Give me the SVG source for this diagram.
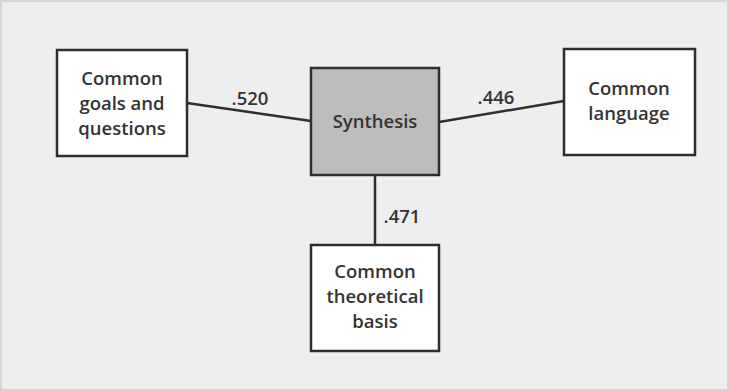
<svg xmlns="http://www.w3.org/2000/svg" width="729" height="391" viewBox="0 0 729 391">
<style>
.box{fill:#ffffff;stroke:#2e2e2e;stroke-width:2.5}
.hub{fill:#bdbdbd;stroke:#2e2e2e;stroke-width:2.5}
.t{font-family:"Open Sans","Liberation Sans",sans-serif;font-size:18.5px;font-weight:600;fill:#333333;text-anchor:middle}
.c{stroke:#2e2e2e;stroke-width:2.5;fill:none}
</style>
<rect x="0" y="0" width="729" height="391" fill="#eeeeee"/>
<rect x="1" y="1" width="727" height="389" fill="none" stroke="#d6d6d6" stroke-width="2"/>
<g id="connectors">
<line class="c" x1="187" y1="103" x2="311" y2="121"/>
<line class="c" x1="439" y1="122" x2="564" y2="101"/>
<line class="c" x1="375" y1="175" x2="375" y2="245"/>
<text class="t" x="250" y="105">.520</text>
<text class="t" x="496" y="104">.446</text>
<text class="t" x="402" y="223">.471</text>
</g>
<g id="goals">
<rect class="box" x="57" y="50" width="130" height="106"/>
<text class="t" x="122" y="85">Common</text>
<text class="t" x="122" y="110">goals and</text>
<text class="t" x="122" y="135">questions</text>
</g>
<g id="synthesis">
<rect class="hub" x="311" y="68" width="128" height="107"/>
<text class="t" x="375" y="128">Synthesis</text>
</g>
<g id="language">
<rect class="box" x="564" y="49" width="131" height="106"/>
<text class="t" x="629" y="95">Common</text>
<text class="t" x="629" y="120">language</text>
</g>
<g id="theory">
<rect class="box" x="311" y="245" width="128" height="106"/>
<text class="t" x="375" y="278">Common</text>
<text class="t" x="375" y="303">theoretical</text>
<text class="t" x="375" y="328">basis</text>
</g>
</svg>
